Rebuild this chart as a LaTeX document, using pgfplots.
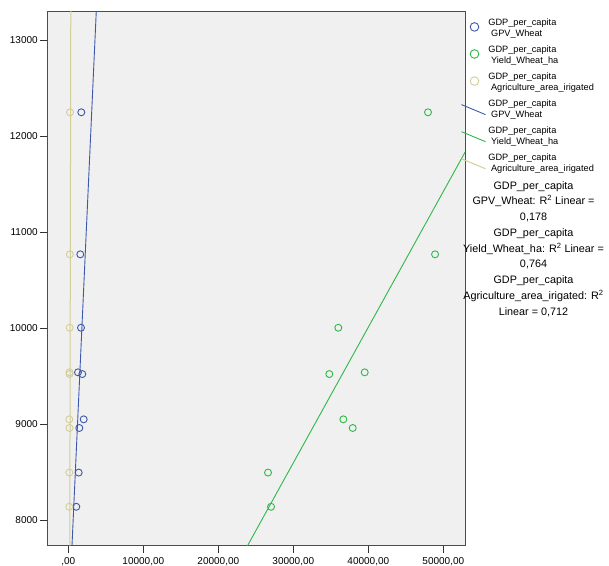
\documentclass[border=0pt]{standalone}
\usepackage{fontspec}
\setmainfont{Liberation Sans}
\usepackage{pgfplots}
\pgfplotsset{compat=1.18}

\definecolor{spssblue}{RGB}{62,88,172}
\definecolor{spssgreen}{RGB}{46,184,72}
\definecolor{spsstan}{RGB}{211,206,151}
\definecolor{plotbg}{RGB}{240,240,240}

\pgfplotsset{
    circlegend/.style={legend image code/.code={\draw[##1, mark size=4.3pt] plot coordinates {(0pt,1.5pt)};}},
    linelegend/.style={legend image code/.code={\draw[##1] (-13pt,5pt) -- (11pt,-5pt);}},
}

\begin{document}
\begin{tikzpicture}[x=1pt,y=1pt]
\begin{axis}[
    at={(47.7pt,19.3pt)}, anchor=south west,
    scale only axis, width=417.3pt, height=534.7pt,
    xmin=-2747, xmax=52893, ymin=7738, ymax=13302,
    axis background/.style={fill=plotbg},
    axis line style={black!70, line width=0.8pt},
    tick pos=left, tick align=outside, major tick length=7.5pt,
    tick style={black!80, line width=0.8pt},
    xtick={0,10000,20000,30000,40000,50000},
    xticklabels={{,00},{10000,00},{20000,00},{30000,00},{40000,00},{50000,00}},
    ytick={8000,9000,10000,11000,12000,13000},
    yticklabels={8000,9000,10000,11000,12000,13000},
    ticklabel style={font=\fontsize{10}{12}\selectfont},
    yticklabel style={inner sep=2.3pt},
    xticklabel style={inner sep=4.5pt},
    legend style={at={(axis description cs:0.9904,0.9888)}, anchor=north west,
        draw=none, fill=none, inner sep=0pt, outer sep=0pt,
        font=\fontsize{9.2}{10.7}\selectfont, row sep=4.2pt,
        cells={align=left, inner sep=0pt},
        /tikz/every odd column/.append style={column sep=0.4pt}},
    legend cell align=left,
]
% scatter: GDP_per_capita against each variable
\addplot[only marks, mark=o, mark size=3.5pt, color=spssblue, line width=0.9pt, circlegend]
    coordinates {(1067,8143) (1387,8499) (1467,8963) (2053,9053) (1867,9524)
                 (1293,9542) (1693,10006) (1600,10770) (1733,12248)};
\addlegendentry{{GDP\_per\_capita\\\hspace*{2.7pt}GPV\_Wheat}}
\addplot[only marks, mark=o, mark size=3.5pt, color=spssgreen, line width=0.9pt, circlegend]
    coordinates {(27030,8143) (26630,8499) (37920,8963) (36670,9053) (34800,9524)
                 (39520,9542) (36000,10006) (48900,10770) (47960,12248)};
\addlegendentry{{GDP\_per\_capita\\\hspace*{2.7pt}Yield\_Wheat\_ha}}
\addplot[only marks, mark=o, mark size=3.5pt, color=spsstan, line width=0.9pt, circlegend]
    coordinates {(120,8143) (140,8499) (150,8963) (130,9053) (170,9524)
                 (160,9542) (180,10006) (210,10770) (230,12248)};
\addlegendentry{{GDP\_per\_capita\\\hspace*{2.7pt}Agriculture\_area\_irigated}}
% linear fit lines
\addplot[spssblue, line width=0.9pt, linelegend]
    coordinates {(492,7738) (3731,13302)};
\addlegendentry{{GDP\_per\_capita\\\hspace*{2.7pt}GPV\_Wheat}}
\addplot[spssgreen, line width=0.9pt, linelegend]
    coordinates {(23896,7738) (52893,11832)};
\addlegendentry{{GDP\_per\_capita\\\hspace*{2.7pt}Yield\_Wheat\_ha}}
\addplot[spsstan, line width=1pt, linelegend]
    coordinates {(200,7738) (330,13302)};
\addlegendentry{{GDP\_per\_capita\\\hspace*{2.7pt}Agriculture\_area\_irigated}}
\end{axis}

\node[align=center, inner sep=0pt, font=\fontsize{10.8}{15.75}\selectfont]
    at (533.5,316) {GDP\_per\_capita\\GPV\_Wheat: R\textsuperscript{2} Linear =\\0,178\\
    GDP\_per\_capita\\Yield\_Wheat\_ha: R\textsuperscript{2} Linear =\\0,764\\
    GDP\_per\_capita\\Agriculture\_area\_irigated: R\textsuperscript{2}\\Linear = 0,712};

\pgfresetboundingbox
\useasboundingbox (0,0) rectangle (609,565);
\end{tikzpicture}
\end{document}
